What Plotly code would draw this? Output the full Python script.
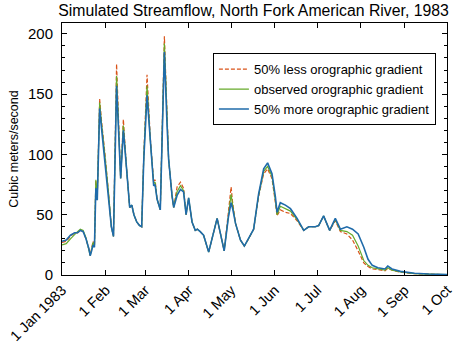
import datetime as dt
import plotly.graph_objects as go

# Day offsets from 1 Jan 1983
days = [0, 3, 6, 9, 11, 13, 15, 17, 19, 20, 21, 22, 23, 24, 25, 26.7, 28, 29.5, 30.5,
        33, 35, 36.5, 38.7, 41.6, 43.5, 45.8, 48, 49.5, 51, 53, 55, 56.5, 58, 60.3,
        62.6, 65, 66, 67.4, 69.7, 72.6, 74.5, 75.6, 78, 79.2, 81.6, 84, 86.2, 88,
        89.8, 92.2, 94.5, 96, 98, 100.4, 104, 107, 110, 115, 118, 119.9, 121, 123,
        126.5, 129.3, 132.3, 135.9, 139.4, 143, 145.8, 148.9, 151.3, 152.5, 154.8,
        158.4, 162, 166.7, 171.4, 174.9, 179.6, 182, 185.5, 189.8, 193.8, 197.4,
        202, 206, 210, 214, 217, 220, 224, 229, 231, 234, 240, 250, 260, 273]

more_grad = [28, 29, 33, 35, 35, 37, 36, 30, 22, 16, 20, 25, 23, 72, 62, 138, 122, 104, 96,
             68, 40, 32, 157, 80, 120, 88, 56, 58, 50, 44, 41, 40, 96, 149,
             110, 74, 75, 63, 54, 185, 124, 96, 66, 56, 66, 71, 69, 50,
             64, 44, 37, 38, 36, 33, 19, 33, 47, 20, 48, 60, 55, 43,
             29, 24, 30, 38, 67, 88, 93, 84, 65, 52, 60,
             58, 55, 47, 37, 40, 40, 41, 49, 37, 47, 38,
             40, 38, 34, 23, 13, 8, 6, 5, 7.5, 5, 3, 1.5, 0.8, 0.4]

observed = [25, 26, 30, 34, 36, 38, 37, 31, 22, 16, 21, 27, 24, 79, 65, 143, 126, 106, 98,
            68, 40, 32, 165, 80, 124, 88, 56, 58, 50, 44, 41, 40, 98, 157,
            112, 76, 77, 63, 54, 192, 126, 96, 66, 56, 69, 74, 70, 50,
            64, 44, 37, 38, 36, 33, 19, 33, 47, 20, 52, 67, 58, 43,
            29, 24, 30, 38, 66, 86, 90, 82, 62, 50, 57,
            55, 53, 46, 37, 40, 40, 41, 49, 37, 46, 37,
            36, 33, 24, 12, 8, 6, 5, 4, 6, 4, 2.5, 1.2, 0.7, 0.3]

less_grad = [27, 28, 32, 35, 35, 37, 36, 30, 22, 16, 22, 28, 24, 78, 64, 146, 128, 107, 100,
             68, 40, 32, 175, 80, 129, 88, 56, 58, 50, 44, 41, 40, 100, 166,
             114, 78, 79, 63, 54, 198, 128, 96, 66, 56, 73, 77, 72, 50,
             63, 44, 37, 38, 36, 33, 19, 33, 47, 20, 55, 73, 60, 43,
             29, 24, 30, 38, 65, 84, 88, 80, 60, 49, 54,
             52, 51, 45, 37, 40, 40, 41, 49, 37, 45, 36,
             34, 29, 20, 10, 7, 5, 4.5, 3.5, 5.5, 4, 2.3, 1.1, 0.7, 0.3]

series_names = ["50% less orographic gradient", "observed orographic gradient",
                "50% more orographic gradient"]
tick_labels = ["1 Jan 1983", "1 Feb", "1 Mar", "1 Apr", "1 May", "1 Jun",
               "1 Jul", "1 Aug", "1 Sep", "1 Oct"]

start = dt.datetime(1983, 1, 1)
dates = [start + dt.timedelta(days=d) for d in days]
tick_vals = [dt.datetime(1983, m, 1) for m in range(1, 11)]

fig = go.Figure()
fig.add_trace(go.Scatter(x=dates, y=less_grad, mode="lines", name=series_names[0],
                         line=dict(color="#D95319", width=1.2, dash="4px,2px")))
fig.add_trace(go.Scatter(x=dates, y=observed, mode="lines", name=series_names[1],
                         line=dict(color="#66AA2A", width=1.2)))
fig.add_trace(go.Scatter(x=dates, y=more_grad, mode="lines", name=series_names[2],
                         line=dict(color="#1F6BAA", width=1.6)))

font_family = "Liberation Sans, Arial, sans-serif"
fig.update_layout(
    width=456, height=347,
    margin=dict(l=62, r=9, t=23, b=72),
    paper_bgcolor="white", plot_bgcolor="white",
    font=dict(family=font_family, color="black", size=13),
    title=dict(text="Simulated Streamflow, North Fork American River, 1983",
               x=0.556, xanchor="center", y=0.985, yanchor="top",
               font=dict(size=15.8, family=font_family, color="black")),
    showlegend=True,
    legend=dict(x=0.392, y=0.88, xanchor="left", yanchor="top",
                bgcolor="white", bordercolor="black", borderwidth=1,
                font=dict(size=13, family=font_family),
                tracegroupgap=0, itemwidth=30),
)
fig.update_xaxes(
    range=[start, dt.datetime(1983, 10, 1)],
    tickvals=tick_vals, ticktext=tick_labels, tickangle=-45,
    ticks="inside", ticklen=5, tickcolor="black", tickwidth=1,
    showline=True, linecolor="black", linewidth=1, mirror="ticks",
    showgrid=False, zeroline=False, tickfont=dict(size=14.5),
    automargin=False,
)
fig.update_yaxes(
    range=[0, 209],
    tickvals=[0, 50, 100, 150, 200],
    ticks="inside", ticklen=5, tickcolor="black", tickwidth=1,
    minor=dict(dtick=10, ticks="inside", ticklen=3, tickcolor="black", showgrid=False),
    showline=True, linecolor="black", linewidth=1, mirror="ticks",
    showgrid=False, zeroline=False, tickfont=dict(size=15),
    ticklabelstandoff=5, automargin=False,
    title=dict(text="Cubic meters/second", font=dict(size=12.5), standoff=6),
)

fig.write_html("out.html")
